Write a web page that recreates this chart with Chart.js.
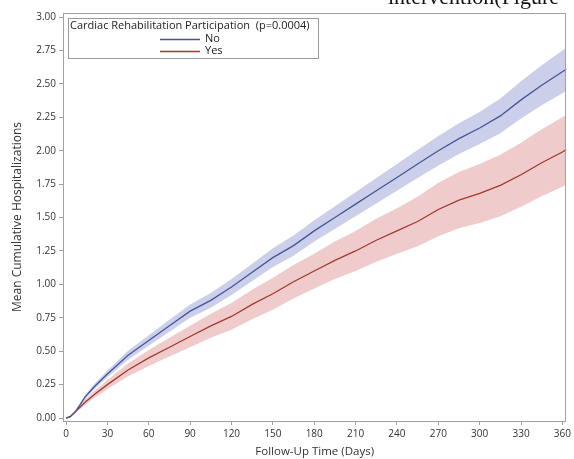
<!DOCTYPE html>
<html>
<head>
<meta charset="utf-8">
<script src="https://cdn.jsdelivr.net/npm/chart.js@4.4.1/dist/chart.umd.min.js"></script>
<style>
  html, body { margin: 0; padding: 0; background: #fff; overflow: hidden; }
  #wrap { position: relative; width: 574px; height: 459px; overflow: hidden; }
  #clip { position: absolute; left: 388px; top: -16px; font-family: "Liberation Serif", serif; font-size: 22px; color: #111; white-space: nowrap; }
  canvas { position: absolute; left: 0; top: 0; }
</style>
</head>
<body>
<div id="wrap">
  <canvas id="chart" width="574" height="459"></canvas>
  <div id="clip">intervention(Figure</div>
</div>
<script>
// follow-up days
const days = [0, 3, 7, 14, 21, 30, 45, 60, 75, 90, 105, 120, 135, 150, 165, 180, 195, 210, 225, 240, 255, 270, 285, 300, 315, 330, 345, 360, 363];

// No participation: mean and confidence band
const noMean  = [0, 0.01, 0.05, 0.16, 0.24, 0.33, 0.47, 0.58, 0.69, 0.80, 0.88, 0.98, 1.09, 1.20, 1.29, 1.40, 1.50, 1.60, 1.70, 1.80, 1.90, 2.00, 2.09, 2.17, 2.26, 2.38, 2.49, 2.59, 2.61];
const noLower = [0, 0.007, 0.042, 0.145, 0.22, 0.305, 0.437, 0.54, 0.645, 0.75, 0.825, 0.92, 1.025, 1.13, 1.215, 1.32, 1.415, 1.51, 1.605, 1.70, 1.795, 1.89, 1.975, 2.05, 2.13, 2.24, 2.34, 2.43, 2.45];
const noUpper = [0, 0.013, 0.058, 0.175, 0.26, 0.355, 0.503, 0.62, 0.735, 0.85, 0.935, 1.04, 1.155, 1.27, 1.365, 1.48, 1.585, 1.69, 1.795, 1.90, 2.005, 2.11, 2.205, 2.29, 2.39, 2.52, 2.64, 2.75, 2.77];

// Yes participation: mean and confidence band
const yesMean  = [0, 0.01, 0.05, 0.12, 0.18, 0.25, 0.36, 0.45, 0.53, 0.61, 0.69, 0.76, 0.85, 0.93, 1.02, 1.10, 1.18, 1.25, 1.33, 1.40, 1.47, 1.56, 1.63, 1.68, 1.74, 1.82, 1.91, 1.99, 2.01];
const yesLower = [0, 0.005, 0.038, 0.10, 0.153, 0.215, 0.312, 0.39, 0.46, 0.53, 0.60, 0.66, 0.74, 0.81, 0.895, 0.97, 1.04, 1.10, 1.17, 1.23, 1.285, 1.36, 1.42, 1.46, 1.51, 1.58, 1.66, 1.73, 1.75];
const yesUpper = [0, 0.015, 0.062, 0.14, 0.207, 0.285, 0.408, 0.51, 0.60, 0.69, 0.78, 0.86, 0.96, 1.05, 1.145, 1.23, 1.32, 1.40, 1.49, 1.57, 1.655, 1.76, 1.84, 1.90, 1.97, 2.06, 2.16, 2.25, 2.27];

// tick labels
const xTicks = [0, 30, 60, 90, 120, 150, 180, 210, 240, 270, 300, 330, 360];
const yTicks = [0, 0.25, 0.5, 0.75, 1, 1.25, 1.5, 1.75, 2, 2.25, 2.5, 2.75, 3];

const legendTitle = 'Cardiac Rehabilitation Participation  (p=0.0004)';
const groups = ['No', 'Yes'];

const BLUE = '#46559a';
const RED = '#a2392f';
const FONT = '"Open Sans", "DejaVu Sans", sans-serif';

const pts = arr => arr.map((v, i) => ({ x: days[i], y: v }));

function band(data, color, fill) {
    return { data: pts(data), borderWidth: 0, pointRadius: 0, borderColor: 'transparent',
             backgroundColor: color, fill: fill, order: 3 };
}

// draws the plot frame and the legend box inside the plot
const framePlugin = {
    id: 'frame',
    afterDraw(chart) {
        const c = chart.ctx, a = chart.chartArea;
        c.save();
        c.strokeStyle = '#a0a0a0';
        c.lineWidth = 1;
        c.strokeRect(Math.round(a.left) + 0.5, Math.round(a.top) + 0.5,
                     Math.round(a.right - a.left) - 1, Math.round(a.bottom - a.top));

        // legend
        c.strokeStyle = '#9a9a9a';
        c.strokeRect(68.5, 18.5, 250, 40);
        c.fillStyle = '#222';
        c.font = '11px ' + FONT;
        c.textBaseline = 'middle';
        c.fillText(legendTitle, 70, 26);
        const cols = [BLUE, RED];
        groups.forEach((g, i) => {
            const y = 39 + i * 12;
            c.strokeStyle = cols[i];
            c.lineWidth = 1.3;
            c.beginPath();
            c.moveTo(160, y + 0.5);
            c.lineTo(200, y + 0.5);
            c.stroke();
            c.fillText(g, 205, y);
        });
        c.restore();
    }
};

new Chart(document.getElementById('chart'), {
    type: 'line',
    data: {
        datasets: [
            band(noLower, 'transparent', false),
            band(noUpper, 'rgba(112, 122, 196, 0.36)', '-1'),
            band(yesLower, 'transparent', false),
            band(yesUpper, 'rgba(214, 110, 110, 0.36)', '-1'),
            { label: groups[0], data: pts(noMean), borderColor: BLUE, borderWidth: 1.3, pointRadius: 0, fill: false, order: 1 },
            { label: groups[1], data: pts(yesMean), borderColor: RED, borderWidth: 1.3, pointRadius: 0, fill: false, order: 1 }
        ]
    },
    options: {
        responsive: false,
        animation: false,
        layout: { padding: { top: 13, right: 4, left: 0, bottom: 0 } },
        plugins: { legend: { display: false }, tooltip: { enabled: false } },
        scales: {
            x: {
                type: 'linear', min: -2.2, max: 362.9,
                afterBuildTicks: s => { s.ticks = xTicks.map(v => ({ value: v })); },
                afterFit: s => { s.height = 38; },
                grid: { drawOnChartArea: false, drawTicks: true, tickLength: 4, color: '#a0a0a0' },
                border: { display: false },
                ticks: { color: '#333', font: { family: FONT, size: 10 }, padding: 3, maxRotation: 0 },
                title: { display: true, text: 'Follow-Up Time (Days)', color: '#333',
                         font: { family: FONT, size: 11.5 }, padding: { top: 3, bottom: 0 } }
            },
            y: {
                min: -0.022, max: 3.03,
                afterBuildTicks: s => { s.ticks = yTicks.map(v => ({ value: v })); },
                afterFit: s => { s.width = 63; },
                grid: { drawOnChartArea: false, drawTicks: true, tickLength: 4, color: '#a0a0a0' },
                border: { display: false },
                ticks: { color: '#333', font: { family: FONT, size: 10 }, padding: 3,
                         callback: v => v.toFixed(2) },
                title: { display: true, text: 'Mean Cumulative Hospitalizations', color: '#333',
                         font: { family: FONT, size: 12 }, padding: { top: 10, bottom: 0 } }
            }
        }
    },
    plugins: [framePlugin]
});
</script>
</body>
</html>
